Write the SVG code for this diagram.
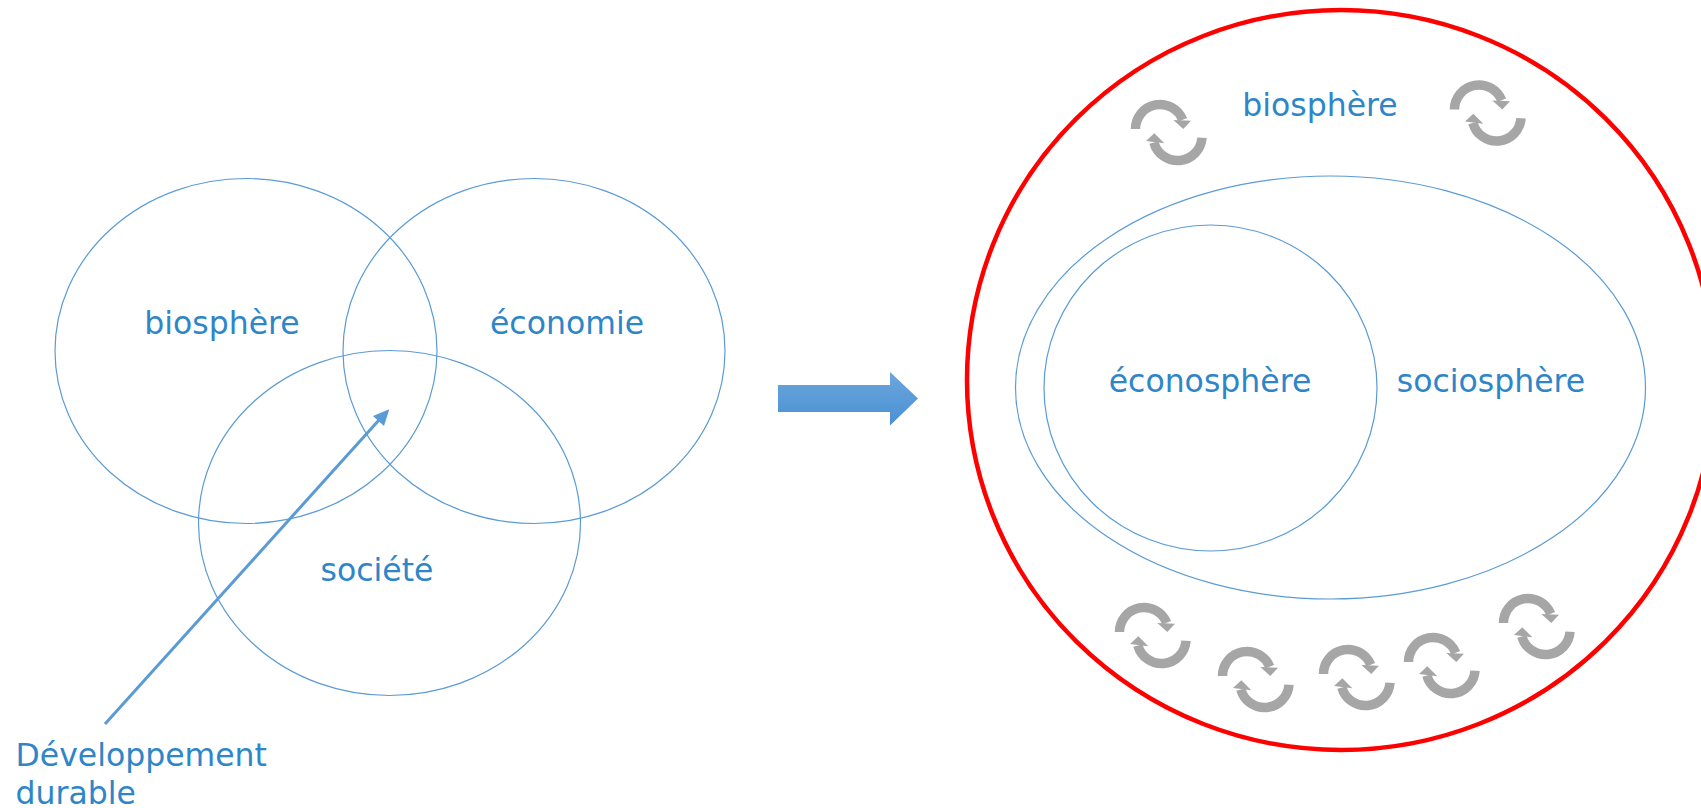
<svg xmlns="http://www.w3.org/2000/svg" xmlns:xlink="http://www.w3.org/1999/xlink" width="1701" height="808" viewBox="0 0 1701 808">
<style>
.e{fill:none;stroke:#5b9bd5;stroke-width:1.2}
.t{font-family:"DejaVu Sans",Verdana,sans-serif;font-size:31.5px;fill:#2e86c9}
.m{text-anchor:middle}
.a{fill:none;stroke:#a6a6a6;stroke-width:9.5}
.h{fill:#a6a6a6}
</style>
<defs>
<linearGradient id="g" x1="0" y1="0" x2="0" y2="1"><stop offset="0" stop-color="#6ca6de"/><stop offset="1" stop-color="#4a90d2"/></linearGradient>
<g id="cycle">
<path class="a" d="M-33.5 -3A24.5 24.5 0 0 1 13.700 -12.300"/>
<polygon class="h" points="4.300,-12 22,-11.300 14.300,-3"/>
<path class="a" d="M33 5.700A24.5 24.5 0 0 1 -15.100 10.400"/>
<polygon class="h" points="-23,9 -4.700,11.300 -14.700,1.300"/>
</g>
</defs>
<rect width="1701" height="808" fill="#fff"/>
<g id="biosphere-left"><ellipse class="e" cx="246" cy="351" rx="191" ry="172.500"/><text class="t m" x="222" y="334">biosphère</text></g>
<g id="economie"><ellipse class="e" cx="534" cy="351" rx="191" ry="172.500"/><text class="t m" x="567" y="334">économie</text></g>
<g id="societe"><ellipse class="e" cx="389.500" cy="523" rx="191" ry="172.500"/><text class="t m" x="377" y="581">société</text></g>
<g id="developpement-durable"><text class="t" x="15.500" y="766">Développement</text><text class="t" x="15.500" y="804">durable</text></g>
<g id="big-arrow"><polygon points="778,385 890,385 890,372 918,398.500 890,425.500 890,412 778,412" fill="url(#g)"/></g>
<g id="biosphere-right"><ellipse cx="1341" cy="380" rx="374" ry="370" fill="none" stroke="#ff0000" stroke-width="4.500"/><text class="t m" x="1320" y="116">biosphère</text></g>
<g id="sociosphere"><ellipse class="e" cx="1330.500" cy="387.500" rx="315" ry="211.500"/><text class="t m" x="1491" y="392">sociosphère</text></g>
<g id="econosphere"><ellipse class="e" cx="1210.500" cy="388" rx="166.500" ry="163"/><text class="t m" x="1210" y="392">éconosphère</text></g>
<g id="cycles">
<use xlink:href="#cycle" href="#cycle" x="1169" y="132"/>
<use xlink:href="#cycle" href="#cycle" x="1488" y="112.500"/>
<use xlink:href="#cycle" href="#cycle" x="1153" y="635"/>
<use xlink:href="#cycle" href="#cycle" x="1256" y="679"/>
<use xlink:href="#cycle" href="#cycle" x="1357" y="677"/>
<use xlink:href="#cycle" href="#cycle" x="1442" y="665"/>
<use xlink:href="#cycle" href="#cycle" x="1537" y="626"/>
</g>
<g id="connectors"><line x1="105" y1="724" x2="379" y2="420" stroke="#5b9bd5" stroke-width="3"/><polygon points="389.300,409.300 373,416 384,426" fill="#5b9bd5"/></g>
</svg>
